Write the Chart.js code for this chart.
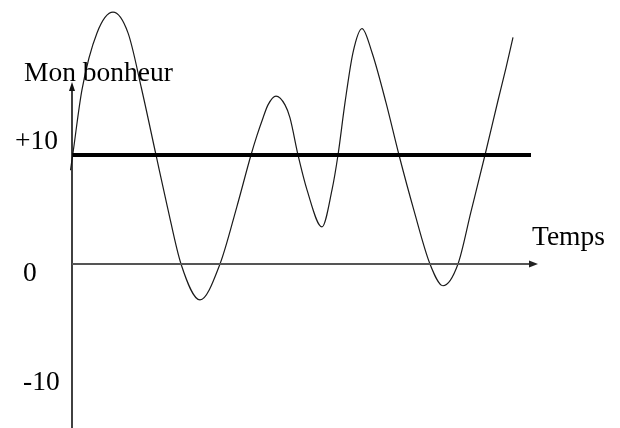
<!DOCTYPE html>
<html>
<head>
<meta charset="utf-8">
<script src="https://cdn.jsdelivr.net/npm/chart.js@4.4.1/dist/chart.umd.min.js"></script>
<style>
html,body{margin:0;padding:0;background:#fff;}
#wrap{width:620px;height:428px;}
</style>
</head>
<body>
<div id="wrap"><canvas id="c" width="620" height="428"></canvas></div>
<script>
// ---- data ----
const curveTime = [-0.15, 0.07, 1.0, 2.5, 4.1, 5.6, 6.95, 8.4, 9.55, 10.9, 12.8, 14.8, 16.47, 17.9, 18.5, 19.1, 19.6, 20.4, 21.3, 21.8, 22.6, 23.5, 25.0, 26.0, 26.6, 27.3, 28.1, 29.0, 30.0, 31.4, 32.7, 34.2, 35.8, 37.1, 38.6, 39.9, 41.3, 42.6, 43.4, 44.1];
const curveHappiness = [8.6, 10.0, 16.0, 21.2, 23.1, 21.2, 16.1, 10.0, 5.2, 0, -3.3, 0, 5.2, 10.0, 11.8, 13.4, 14.6, 15.4, 14.6, 13.4, 10.0, 6.8, 3.4, 6.8, 10.0, 14.8, 19.4, 21.6, 19.4, 14.8, 10.0, 4.9, 0, -2.0, 0, 4.8, 10.0, 15.0, 18.0, 20.8];
const referenceLevel = 10;
const referenceTime = [0, 45.9];
const xAxisTime = [0, 46.6];
const yAxisRange = [-15.2, 16.7];
const tickValues = [10, 0, -10];
const tickLabels = ['+10', '0', '-10'];
const yTitle = 'Mon bonheur';
const xTitle = 'Temps';

const toPts = (xs, ys) => xs.map((x, i) => ({x: x, y: ys[i]}));

const decor = {
  id: 'decor',
  afterDatasetsDraw(chart) {
    const ctx = chart.ctx;
    const xs = chart.scales.x, ys = chart.scales.y;
    ctx.save();
    ctx.fillStyle = '#111';
    let tx = xs.getPixelForValue(0), ty = ys.getPixelForValue(yAxisRange[1]);
    ctx.beginPath();
    ctx.moveTo(tx, ty);
    ctx.lineTo(tx - 3, ty + 9);
    ctx.lineTo(tx + 3, ty + 9);
    ctx.closePath();
    ctx.fill();
    ctx.fillStyle = '#222';
    tx = xs.getPixelForValue(xAxisTime[1]); ty = ys.getPixelForValue(0);
    ctx.beginPath();
    ctx.moveTo(tx, ty);
    ctx.lineTo(tx - 9, ty - 3.5);
    ctx.lineTo(tx - 9, ty + 3.5);
    ctx.closePath();
    ctx.fill();
    ctx.fillStyle = '#000';
    ctx.font = '27.5px "Liberation Serif", "Times New Roman", serif';
    ctx.textBaseline = 'alphabetic';
    ctx.textAlign = 'left';
    const tickLeft = [15, 23, 23];
    const tickOff = [-6, 17, 17];
    tickValues.forEach((v, i) => {
      ctx.fillText(tickLabels[i], tickLeft[i], ys.getPixelForValue(v) + tickOff[i]);
    });
    ctx.fillText(yTitle, 24, ys.getPixelForValue(yAxisRange[1]) - 1);
    ctx.fillText(xTitle, xs.getPixelForValue(xAxisTime[1]) - 6, ys.getPixelForValue(0) - 19);
    ctx.restore();
  }
};

new Chart(document.getElementById('c'), {
  type: 'scatter',
  data: {
    datasets: [
      {
        data: toPts([xAxisTime[0], xAxisTime[1] - 0.6], [0, 0]),
        showLine: true, borderColor: '#555', borderWidth: 2, pointRadius: 0
      },
      {
        data: toPts([0, 0], [yAxisRange[0], yAxisRange[1] - 0.6]),
        showLine: true, borderColor: '#111', borderWidth: 1.6, pointRadius: 0
      },
      {
        data: toPts(referenceTime, [referenceLevel, referenceLevel]),
        showLine: true, borderColor: '#000', borderWidth: 4, pointRadius: 0
      },
      {
        data: toPts(curveTime, curveHappiness),
        showLine: true, borderColor: '#1a1a1a', borderWidth: 1.2, pointRadius: 0,
        cubicInterpolationMode: 'monotone'
      }
    ]
  },
  options: {
    responsive: false,
    animation: false,
    events: [],
    layout: {padding: 0},
    plugins: {legend: {display: false}, tooltip: {enabled: false}},
    scales: {
      x: {type: 'linear', display: false, min: -7.2, max: 54.8},
      y: {type: 'linear', display: false, min: -15.05, max: 24.22}
    }
  },
  plugins: [decor]
});
</script>
</body>
</html>
